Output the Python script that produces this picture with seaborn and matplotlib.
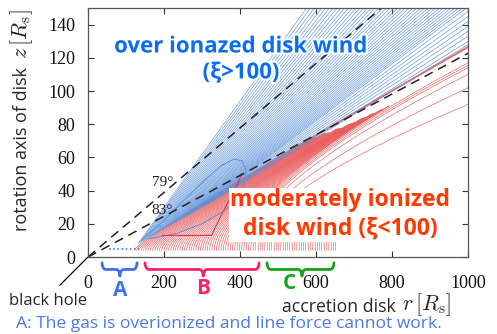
import numpy as np
import pandas as pd
import seaborn as sns
import matplotlib.pyplot as plt
from matplotlib import patheffects as pe

# axis ticks
x_ticks = [0, 200, 400, 600, 800, 1000]
y_ticks = [0, 20, 40, 60, 80, 100, 120, 140]

# dashed guide lines, angle measured from the rotation axis
guide_angles = [79, 83]
guide_label_r = [197, 195]
guide_label_z = [45, 28]

# blue streamlines (xi > 100): launch edge and exit points on the frame
blue_launch_r = [132, 330]
blue_launch_z = [8, 34]
blue_exit_top_r = list(range(575, 1000, 10))
blue_exit_right_z = [148, 145, 142, 139, 136, 133, 130, 128]

# red streamlines (xi < 100) that escape
red_launch_r = list(range(122, 436, 6))
red_anchor_r = [122, 250, 400, 416, 422, 428, 434]
red_exit_z = [127, 121, 118, 114, 110, 102, 92]
red_end_anchor_r = [122, 140, 146, 380, 398, 404, 434]
red_end_r = [1000, 1000, 600, 780, 800, 1000, 1000]
red_offset = -5
# failed wind (short stubs)
stub_r = list(range(440, 656, 6))
stub_z = [4, 10]

# ionization contours
blue_loop_r = [140, 200, 260, 310, 350, 385, 405, 416, 412, 395, 360, 300, 230, 160, 140]
blue_loop_z = [10, 22, 36, 47, 55, 59, 58, 52, 44, 36, 28, 20, 14, 11, 10]
red_cont_r = [195, 325, 350, 385, 405]
red_cont_z = [13, 13, 25, 40, 50]
overion_r = [55, 135]
overion_z = [5, 5]

# braces under the disk
brace_labels = ['A', 'B', 'C']
brace_from = [37, 150, 471]
brace_to = [129, 450, 647]
brace_tip = [84, 303, 563]
brace_label_r = [84, 303, 530]
brace_label_z = [-20, -19, -16]
brace_colors = ['#3f6ff2', '#ff1f6e', '#16a216']

RED = '#eb5a5b'
BLUE = '#6093da'
SANS = ['Open Sans', 'DejaVu Sans']

sns.set_theme(style='ticks')
plt.rcParams['font.family'] = ['Liberation Serif', 'DejaVu Serif']
plt.rcParams['mathtext.fontset'] = 'cm'

fig = plt.figure(figsize=(4.97, 3.34), dpi=100)
ax = fig.add_axes([0.177, 0.2305, 0.765, 0.7455])

rows = []
lid = 0
# red escaping lines: quadratic curve, vertical at launch, tangent to its exit direction
t = np.linspace(0, 1, 80)
for r0 in red_launch_r:
    ze = np.interp(r0, red_anchor_r, red_exit_z)
    rend = np.interp(r0, red_end_anchor_r, red_end_r)
    zc = (ze - red_offset) / 1000 * r0 + red_offset
    rr = (1 - t) ** 2 * r0 + 2 * t * (1 - t) * r0 + t ** 2 * 1000
    zz = (1 - t) ** 2 * 4 + 2 * t * (1 - t) * zc + t ** 2 * ze
    keep = rr <= rend
    rows += [(a, b, lid, 'red') for a, b in zip(rr[keep], zz[keep])]
    lid += 1
for r0 in stub_r:
    rows += [(r0, stub_z[0], lid, 'stub'), (r0, stub_z[1], lid, 'stub')]
    lid += 1

# blue lines: straight from the launch edge to the frame
exits = [(r, 150) for r in blue_exit_top_r] + [(1000, z) for z in blue_exit_right_z]
n = len(exits)
for i, (er, ez) in enumerate(exits):
    sr = blue_launch_r[0] + (blue_launch_r[1] - blue_launch_r[0]) * i / (n - 1)
    sz = blue_launch_z[0] + (blue_launch_z[1] - blue_launch_z[0]) * i / (n - 1)
    rows += [(sr, sz, lid, 'blue'), (er, ez, lid, 'blue')]
    lid += 1

df = pd.DataFrame(rows, columns=['r', 'z', 'line', 'kind'])
sns.lineplot(data=df, x='r', y='z', units='line', estimator=None, hue='kind',
             hue_order=['stub', 'red', 'blue'],
             palette={'stub': '#ee7070', 'red': RED, 'blue': BLUE},
             sort=False, legend=False, linewidth=0.45, ax=ax)

sns.lineplot(x=blue_loop_r, y=blue_loop_z, sort=False, color='#5a8fe0', linewidth=0.7, ax=ax)
sns.lineplot(x=red_cont_r, y=red_cont_z, sort=False, color='#e03a3a', linewidth=0.8, ax=ax)
sns.lineplot(x=overion_r, y=overion_z, sort=False, color='#3d7fe0', linewidth=1.2,
             linestyle=(0, (1, 1.5)), ax=ax)

for ang in guide_angles:
    slope = np.tan(np.radians(90 - ang))
    sns.lineplot(x=[0, 1000], y=[0, 1000 * slope], color='#222222', linewidth=1.1,
                 linestyle=(0, (6, 4)), ax=ax)
for ang, gr, gz in zip(guide_angles, guide_label_r, guide_label_z):
    ax.text(gr, gz, f'{ang}°', fontsize=11, ha='center', va='center', color='#222222')

ax.set_xlim(0, 1000)
ax.set_ylim(0, 150)
ax.set_xticks(x_ticks)
ax.set_yticks(y_ticks)
ax.set_xlabel('')
ax.set_ylabel('')
ax.tick_params(direction='in', length=4, width=0.8, top=True, right=True,
               labelsize=13, colors='#333333', labelcolor='#111111')
ax.tick_params(axis='x', pad=13)
ax.tick_params(axis='y', pad=9)
for s in ax.spines.values():
    s.set_color('#555555')
    s.set_linewidth(0.9)

# braces below the axis
th = np.linspace(0, np.pi / 2, 10)
k = 10
y0, y1, y2 = -3.5, -7.5, -11.5
for x0, x1, xt, c in zip(brace_from, brace_to, brace_tip, brace_colors):
    px = np.concatenate([x0 + k - k * np.cos(th), xt - k + k * np.sin(th),
                         xt + k - k * np.cos(th), x1 - k + k * np.sin(th)])
    py = np.concatenate([y0 - (y0 - y1) * np.sin(th), y2 + (y1 - y2) * np.cos(th),
                         y2 + (y1 - y2) * np.sin(th), y0 - (y0 - y1) * np.cos(th)])
    ax.plot(px, py, color=c, linewidth=2, clip_on=False)
for lab, lr, lz, c in zip(brace_labels, brace_label_r, brace_label_z, brace_colors):
    ax.text(lr, lz, lab, color=c, fontsize=15, fontweight='bold', family=SANS,
            ha='center', va='center')

# black hole pointer
ax.plot([0, -74], [0, -17], color='black', linewidth=0.9, clip_on=False)
fig.text(9 / 497, 1 - 301 / 334, 'black hole', fontsize=12, family=SANS,
         ha='left', va='center')

# region labels
halo = [pe.withStroke(linewidth=3, foreground='white')]
fig.text(241 / 497, 1 - 47 / 334, 'over ionazed disk wind', color='#0a6cf5', fontsize=16,
         fontweight='bold', family=SANS, ha='center', va='center', path_effects=halo)
fig.text(241 / 497, 1 - 73 / 334, '(ξ>100)', color='#0a6cf5', fontsize=16,
         fontweight='bold', family=SANS, ha='center', va='center', path_effects=halo)
ax.text(663, 25.5, 'moderately ionized\ndisk wind (ξ<100)', color='#ff3a00', fontsize=16.5,
        fontweight='bold', family=SANS, ha='center', va='center', linespacing=1.25,
        bbox=dict(facecolor='white', edgecolor='none', pad=0.5))

# axis titles
fig.text(22 / 497, 1 - 149 / 334, 'rotation axis of disk', fontsize=13, rotation=90,
         family=SANS, ha='center', va='center')
fig.text(22 / 497, 1 - 34 / 334, r'$z\,[R_{\rm s}]$', fontsize=16, rotation=90,
         ha='center', va='center')
fig.text(282 / 497, 1 - 307 / 334, 'accretion disk', fontsize=12.7, family=SANS,
         ha='left', va='center')
fig.text(402 / 497, 1 - 305 / 334, r'$r\,[R_{\rm s}]$', fontsize=16, ha='left', va='center')

fig.text(229 / 497, 1 - 324 / 334, 'A: The gas is overionized and line force cannot work.',
         color='#4a78f0', fontsize=12.6, family=SANS, ha='center', va='center')

fig.savefig('out.png', dpi=100)
